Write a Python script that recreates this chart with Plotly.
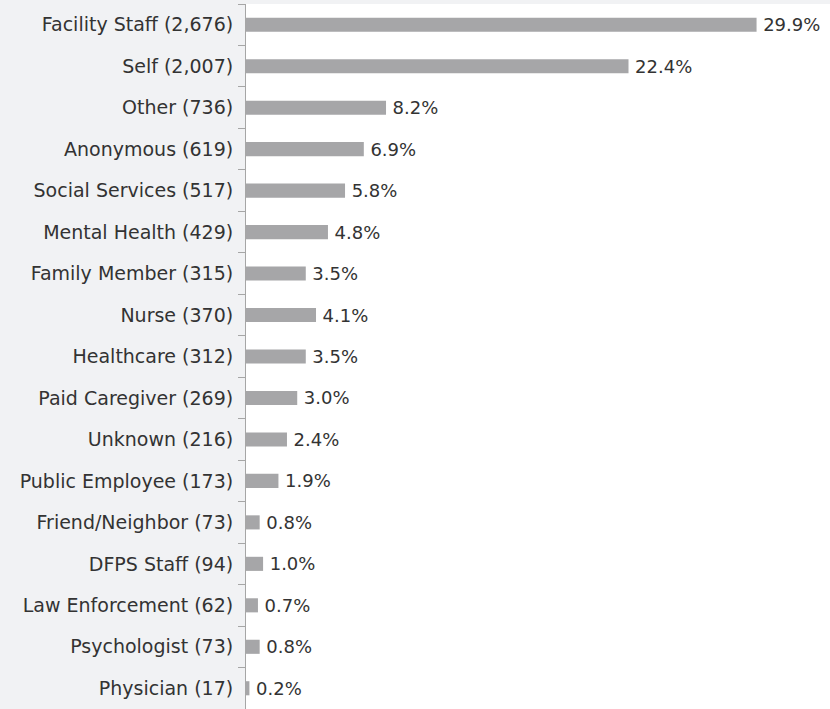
import plotly.graph_objects as go

categories = ["Facility Staff", "Self", "Other", "Anonymous", "Social Services",
              "Mental Health", "Family Member", "Nurse", "Healthcare", "Paid Caregiver",
              "Unknown", "Public Employee", "Friend/Neighbor", "DFPS Staff",
              "Law Enforcement", "Psychologist", "Physician"]
counts = [2676, 2007, 736, 619, 517, 429, 315, 370, 312, 269, 216, 173, 73, 94, 62, 73, 17]
percents = [29.9, 22.4, 8.2, 6.9, 5.8, 4.8, 3.5, 4.1, 3.5, 3.0, 2.4, 1.9, 0.8, 1.0, 0.7, 0.8, 0.2]

labels = [f"{c} ({n:,})" for c, n in zip(categories, counts)]
texts = [f"\u2009{p:.1f}%" for p in percents]

FONT = "DejaVu Sans, sans-serif"
TXT = "#333333"

fig = go.Figure(go.Bar(
    x=percents, y=labels, orientation="h",
    marker=dict(color="#a6a6a8", line=dict(width=0)),
    text=texts, textposition="outside", cliponaxis=False, constraintext="none",
    textfont=dict(family=FONT, size=18, color=TXT),
    hoverinfo="skip",
))

fig.update_layout(
    width=830, height=709,
    margin=dict(l=246, r=0, t=4, b=0),
    paper_bgcolor="#f1f2f4", plot_bgcolor="#ffffff",
    bargap=0.66, showlegend=False,
    font=dict(family=FONT, size=19, color=TXT),
)
fig.update_xaxes(range=[0, 34.2], visible=False, showgrid=False, zeroline=False)
fig.update_yaxes(
    autorange="reversed", showline=True, linecolor="#a6a6a6", linewidth=1,
    ticks="outside", tickson="boundaries", ticklen=7, tickcolor="#a6a6a6",
    ticklabelstandoff=8,
    showgrid=False, tickfont=dict(family=FONT, size=19, color=TXT),
)

fig.write_html("out.html", config={"displayModeBar": False},
               post_script="document.body.style.margin='0';document.body.style.padding='0';")
